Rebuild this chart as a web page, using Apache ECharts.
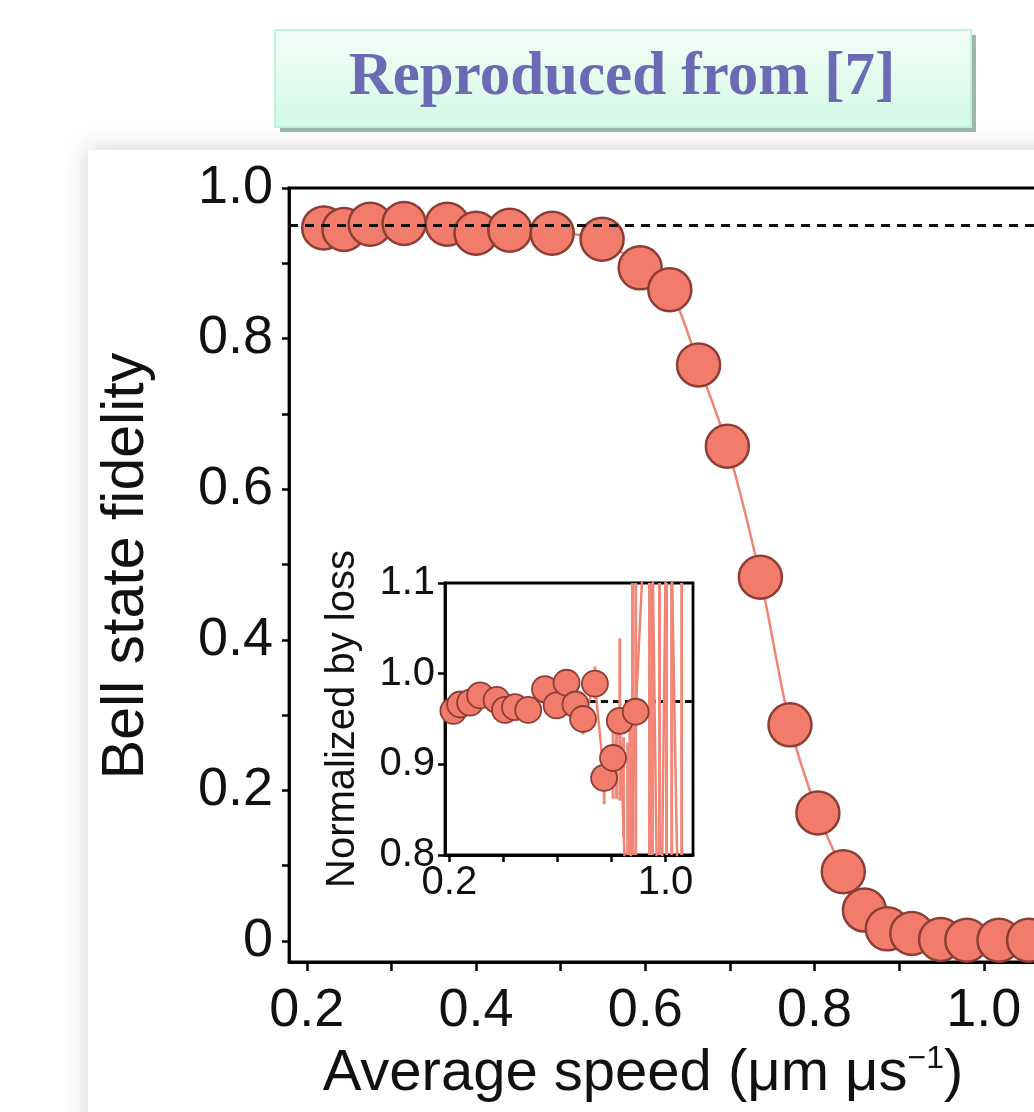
<!DOCTYPE html>
<html><head><meta charset="utf-8">
<script src="https://cdn.jsdelivr.net/npm/echarts@6/dist/echarts.min.js"></script>
<style>html,body{margin:0;padding:0;background:#fff;overflow:hidden}#c{width:1034px;height:1112px}</style>
</head><body><div id="c"></div><script>
// ---- main panel data ----
const speed    = [0.220, 0.244, 0.275, 0.315, 0.366, 0.400, 0.440, 0.490, 0.549, 0.594, 0.629, 0.663, 0.697, 0.736, 0.771, 0.804, 0.834, 0.859, 0.886, 0.915, 0.949, 0.980, 1.018, 1.053];
const fidelity = [0.947, 0.945, 0.952, 0.953, 0.952, 0.940, 0.944, 0.940, 0.932, 0.894, 0.865, 0.765, 0.657, 0.483, 0.287, 0.170, 0.092, 0.041, 0.016, 0.010, 0.002, 0.001, 0.001, 0.001];
const refFidelity = 0.9456;
const xTicks  = [0.2, 0.3, 0.4, 0.5, 0.6, 0.7, 0.8, 0.9, 1.0, 1.1];
const xLabels = [0.2, 0.4, 0.6, 0.8, 1.0];
const yTicks  = [0, 0.1, 0.2, 0.3, 0.4, 0.5, 0.6, 0.7, 0.8, 0.9, 1.0];
const yLabels = [0, 0.2, 0.4, 0.6, 0.8, 1.0];
// ---- inset data ----
const insetSpeed = [0.215, 0.240, 0.277, 0.314, 0.375, 0.406, 0.443, 0.492, 0.554, 0.597, 0.634, 0.667, 0.695, 0.739, 0.773, 0.806, 0.831, 0.860, 0.890, 0.945, 0.978, 1.010, 1.055];
const insetNorm  = [0.959, 0.966, 0.968, 0.976, 0.971, 0.960, 0.963, 0.960, 0.983, 0.965, 0.990, 0.966, 0.950, 0.989, 0.885, 0.907, 0.948, 0.700, 0.958, 1.300, 0.550, 1.350, 0.600];
const insetRef = 0.966;
const errSpeed = [0.695, 0.739, 0.773, 0.806, 0.819, 0.831, 0.845, 0.860, 0.868, 0.878, 0.890, 0.941, 0.952, 0.978, 1.004, 1.023, 1.060];
const errLow   = [0.933, 0.972, 0.856, 0.862, 0.862, 0.860, 0.820, 0.600, 0.600, 0.600, 0.600, 0.600, 0.600, 0.600, 0.600, 0.600, 0.600];
const errHigh  = [0.957, 1.008, 0.909, 0.937, 0.938, 1.039, 0.930, 0.924, 0.940, 1.300, 1.300, 1.300, 1.300, 1.300, 1.300, 1.300, 1.300];
const insetXTicks = [0.2, 0.4, 0.6, 0.8, 1.0];
const insetXLabels = [0.2, 1.0];
const insetYTicks = [0.8, 0.9, 1.0, 1.1];

const FONT = '"Liberation Sans", Arial, Helvetica, sans-serif';
const FILL = '#F27C6C', EDGE = '#8C3E35', LINE = '#F08374';

const chart = echarts.init(document.getElementById('c'), null, {renderer: 'canvas'});
const axisLine = {show: true, onZero: false, lineStyle: {color: '#000', width: 2.8}};
const tickStyle = {color: '#000', width: 2.5};

chart.setOption({
  animation: false,
  backgroundColor: '#fff',
  grid: [
    {left: 289, top: 188, width: 864, height: 774, show: true, borderColor: '#000', borderWidth: 2.8, backgroundColor: 'transparent', containLabel: false, outerBoundsMode: 'none'},
    {left: 445, top: 583, width: 248, height: 272, show: true, borderColor: '#000', borderWidth: 2.8, backgroundColor: '#fff', containLabel: false, outerBoundsMode: 'none', z: 5}
  ],
  xAxis: [
    {type: 'value', gridIndex: 0, min: 0.179, max: 1.2, axisLine,
     axisTick: {show: true, inside: false, length: 9, lineStyle: tickStyle, customValues: xTicks},
     axisLabel: {customValues: xLabels, formatter: v => v.toFixed(1), fontFamily: FONT, fontSize: 54, color: '#111', margin: 22},
     splitLine: {show: false}},
    {type: 'value', gridIndex: 1, min: 0.184, max: 1.102, axisLine, z: 5,
     axisTick: {show: true, inside: false, length: 7, lineStyle: tickStyle, customValues: insetXTicks},
     axisLabel: {customValues: insetXLabels, formatter: v => v.toFixed(1), fontFamily: FONT, fontSize: 40, color: '#111', margin: 8},
     splitLine: {show: false}}
  ],
  yAxis: [
    {type: 'value', gridIndex: 0, min: -0.028, max: 1.0, axisLine,
     axisTick: {show: true, inside: false, length: 7, lineStyle: tickStyle, customValues: yTicks},
     axisLabel: {customValues: yLabels, formatter: v => v === 0 ? '0' : v.toFixed(1), fontFamily: FONT, fontSize: 54, color: '#111', margin: 16},
     splitLine: {show: false}},
    {type: 'value', gridIndex: 1, min: 0.8, max: 1.1, axisLine, z: 5,
     axisTick: {show: true, inside: false, length: 7, lineStyle: tickStyle, customValues: insetYTicks},
     axisLabel: {customValues: insetYTicks, formatter: v => v.toFixed(1), fontFamily: FONT, fontSize: 40, color: '#111', margin: 10},
     splitLine: {show: false}}
  ],
  series: [
    {type: 'line', xAxisIndex: 0, yAxisIndex: 0, data: [], z: 1,
     markLine: {silent: true, symbol: 'none', label: {show: false},
       lineStyle: {color: '#111', type: [9, 7], width: 2.8}, data: [{yAxis: refFidelity}]}},
    {type: 'line', xAxisIndex: 0, yAxisIndex: 0, z: 3, smooth: 0.3,
     data: speed.map((s, i) => [s, fidelity[i]]),
     symbol: 'circle', symbolSize: 43,
     lineStyle: {color: LINE, width: 2.5},
     itemStyle: {color: FILL, borderColor: EDGE, borderWidth: 2.5}},
    {type: 'line', xAxisIndex: 1, yAxisIndex: 1, data: [], z: 6,
     markLine: {silent: true, symbol: 'none', label: {show: false},
       lineStyle: {color: '#111', type: [7, 5], width: 2.8}, data: [{yAxis: insetRef}]}},
    {type: 'custom', xAxisIndex: 1, yAxisIndex: 1, z: 7, clip: true,
     data: errSpeed.map((s, i) => [s, errLow[i], errHigh[i]]),
     renderItem: (params, api) => {
       const lo = Math.max(api.value(1), 0.8), hi = Math.min(api.value(2), 1.1);
       const p1 = api.coord([api.value(0), lo]), p2 = api.coord([api.value(0), hi]);
       return {type: 'line', shape: {x1: p1[0], y1: p1[1], x2: p2[0], y2: p2[1]}, style: {stroke: '#F2887A', lineWidth: 3}};
     }},
    {type: 'line', xAxisIndex: 1, yAxisIndex: 1, z: 8, clip: true,
     data: insetSpeed.map((s, i) => [s, insetNorm[i]]),
     symbol: 'circle', symbolSize: 26,
     lineStyle: {color: LINE, width: 2.5},
     itemStyle: {color: FILL, borderColor: EDGE, borderWidth: 1.8}}
  ],
  graphic: {elements: [
    {type: 'rect', z: -100, shape: {x: 88, y: 150, width: 1100, height: 1100},
     style: {fill: '#fff', shadowBlur: 22, shadowColor: 'rgba(0,0,0,0.16)', shadowOffsetX: -2, shadowOffsetY: -2}},
    {type: 'rect', z: 100, shape: {x: 280, y: 35, width: 696, height: 97}, style: {fill: '#9fb7a8'}},
    {type: 'rect', z: 101, shape: {x: 275, y: 30, width: 696, height: 97},
     style: {stroke: '#bdf3dc', lineWidth: 2,
       fill: new echarts.graphic.LinearGradient(0, 0, 0, 1, [{offset: 0, color: '#f4fffa'}, {offset: 1, color: '#d3f9e5'}])}},
    {type: 'text', z: 102, x: 622, y: 78,
     style: {text: 'Reproduced from [7]', fontFamily: '"Liberation Serif", "DejaVu Serif", serif', fontWeight: 'bold', fontSize: 61, fill: '#6a6ab5', align: 'center', verticalAlign: 'middle'}},
    {type: 'text', z: 50, x: 127, y: 566, rotation: Math.PI / 2,
     style: {text: 'Bell state fidelity', fontFamily: FONT, fontSize: 59, fill: '#111', align: 'center', verticalAlign: 'middle'}},
    {type: 'text', z: 50, x: 643, y: 1074,
     style: {text: 'Average speed (μm μs{s|−1})', fontFamily: FONT, fontSize: 58, fill: '#111', align: 'center', verticalAlign: 'middle',
       rich: {s: {fontFamily: FONT, fontSize: 32, fill: '#111', verticalAlign: 'top', padding: [0, 0, 30, 0]}}}},
    {type: 'text', z: 50, x: 343, y: 719, rotation: Math.PI / 2,
     style: {text: 'Normalized by loss', fontFamily: FONT, fontSize: 40, fill: '#111', align: 'center', verticalAlign: 'middle'}}
  ]}
});
</script></body></html>
